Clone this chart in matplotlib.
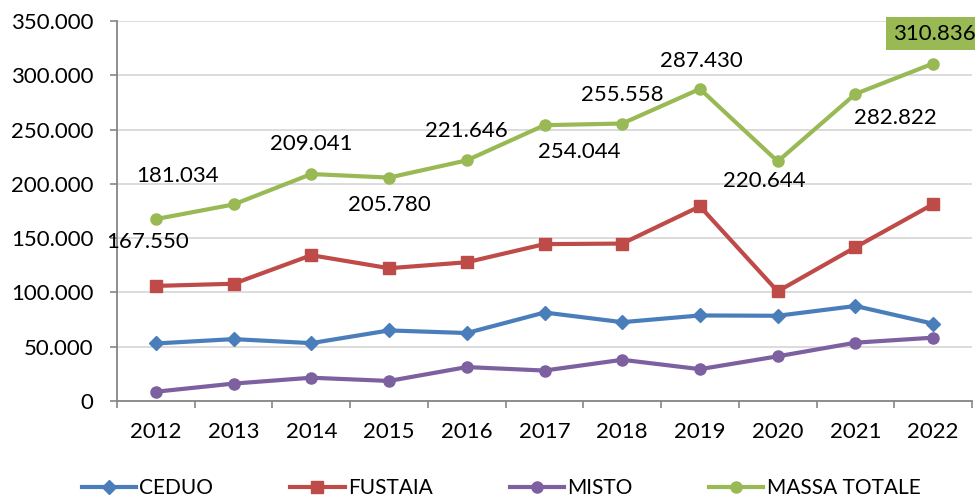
import matplotlib
matplotlib.use("Agg")
import matplotlib.pyplot as plt
import numpy as np
from matplotlib.ticker import FuncFormatter, FixedLocator

years = ["2012", "2013", "2014", "2015", "2016", "2017", "2018", "2019", "2020", "2021", "2022"]
ceduo = [53000, 57000, 53300, 65000, 62600, 81500, 72600, 78800, 78500, 87500, 71200]
fustaia = [106000, 108000, 134300, 122300, 127800, 144500, 145000, 179300, 101000, 141600, 181300]
misto = [8550, 16034, 21441, 18480, 31246, 28044, 37958, 29330, 41144, 53722, 58336]
totale = [167550, 181034, 209041, 205780, 221646, 254044, 255558, 287430, 220644, 282822, 310836]

series_names = ["CEDUO", "FUSTAIA", "MISTO", "MASSA TOTALE"]

plt.rcParams['font.family'] = ['Lato', 'DejaVu Sans']

fig = plt.figure(figsize=(9.75, 5.0), dpi=100)
ax = fig.add_axes([117/975, 99/500, (972-117)/975, (401-21)/500])

x = np.arange(len(years))
lw = 3.0
ax.plot(x, ceduo, color="#4A7EBB", lw=lw, marker="D", ms=7, label=series_names[0], zorder=3)
ax.plot(x, fustaia, color="#BE4B48", lw=lw, marker="s", ms=8, label=series_names[1], zorder=3)
ax.plot(x, misto, color="#7D60A0", lw=lw, marker="o", ms=8, label=series_names[2], zorder=3)
ax.plot(x, totale, color="#98B954", lw=lw, marker="o", ms=8, label=series_names[3], zorder=3)

ax.set_xlim(-0.5, len(years) - 0.5)
ax.set_ylim(0, 350000)
ax.set_yticks(np.arange(0, 350001, 50000))

def fmt(v, pos=None):
    s = f"{v:,.0f}".replace(",", ".")
    return s
ax.yaxis.set_major_formatter(FuncFormatter(fmt))

ax.set_xticks(x)
ax.set_xticklabels(years)
ax.xaxis.set_minor_locator(FixedLocator(np.arange(-0.5, len(years), 1.0)))
ax.tick_params(axis='x', which='major', length=0, pad=15, labelsize=16, colors='black')
ax.tick_params(axis='x', which='minor', length=5, width=1.2, direction='out', color='#868686')
ax.tick_params(axis='y', which='major', length=5, width=1.2, direction='out', color='#868686', pad=12, labelsize=16)

ax.grid(axis='y', color='#D9D9D9', lw=1.3, zorder=0)
ax.set_axisbelow(True)
for s in ['top', 'right']:
    ax.spines[s].set_visible(False)
for s in ['left', 'bottom']:
    ax.spines[s].set_color('#868686')
    ax.spines[s].set_linewidth(1.3)

offsets = [(-8, -23), (-56, 28), (0, 30), (0, -27), (0, 29), (35, -27),
           (0, 29), (1, 28), (-13, -20), (40, -24), (1, 30)]
for i, (v, off) in enumerate(zip(totale, offsets)):
    kw = {}
    if i == len(totale) - 1:
        kw['bbox'] = dict(boxstyle='square,pad=0.3', fc='#98B954', ec='none')
    ax.annotate(fmt(v), xy=(i, v), xytext=off, textcoords='offset pixels',
                ha='center', va='center', fontsize=16, color='black',
                annotation_clip=False, **kw)

fig.legend(loc='center', bbox_to_anchor=(0.514, 0.024), ncol=4, frameon=False,
           fontsize=15, handlelength=2.6, handletextpad=0.15, columnspacing=3.7)

fig.savefig("out.png", dpi=100)
